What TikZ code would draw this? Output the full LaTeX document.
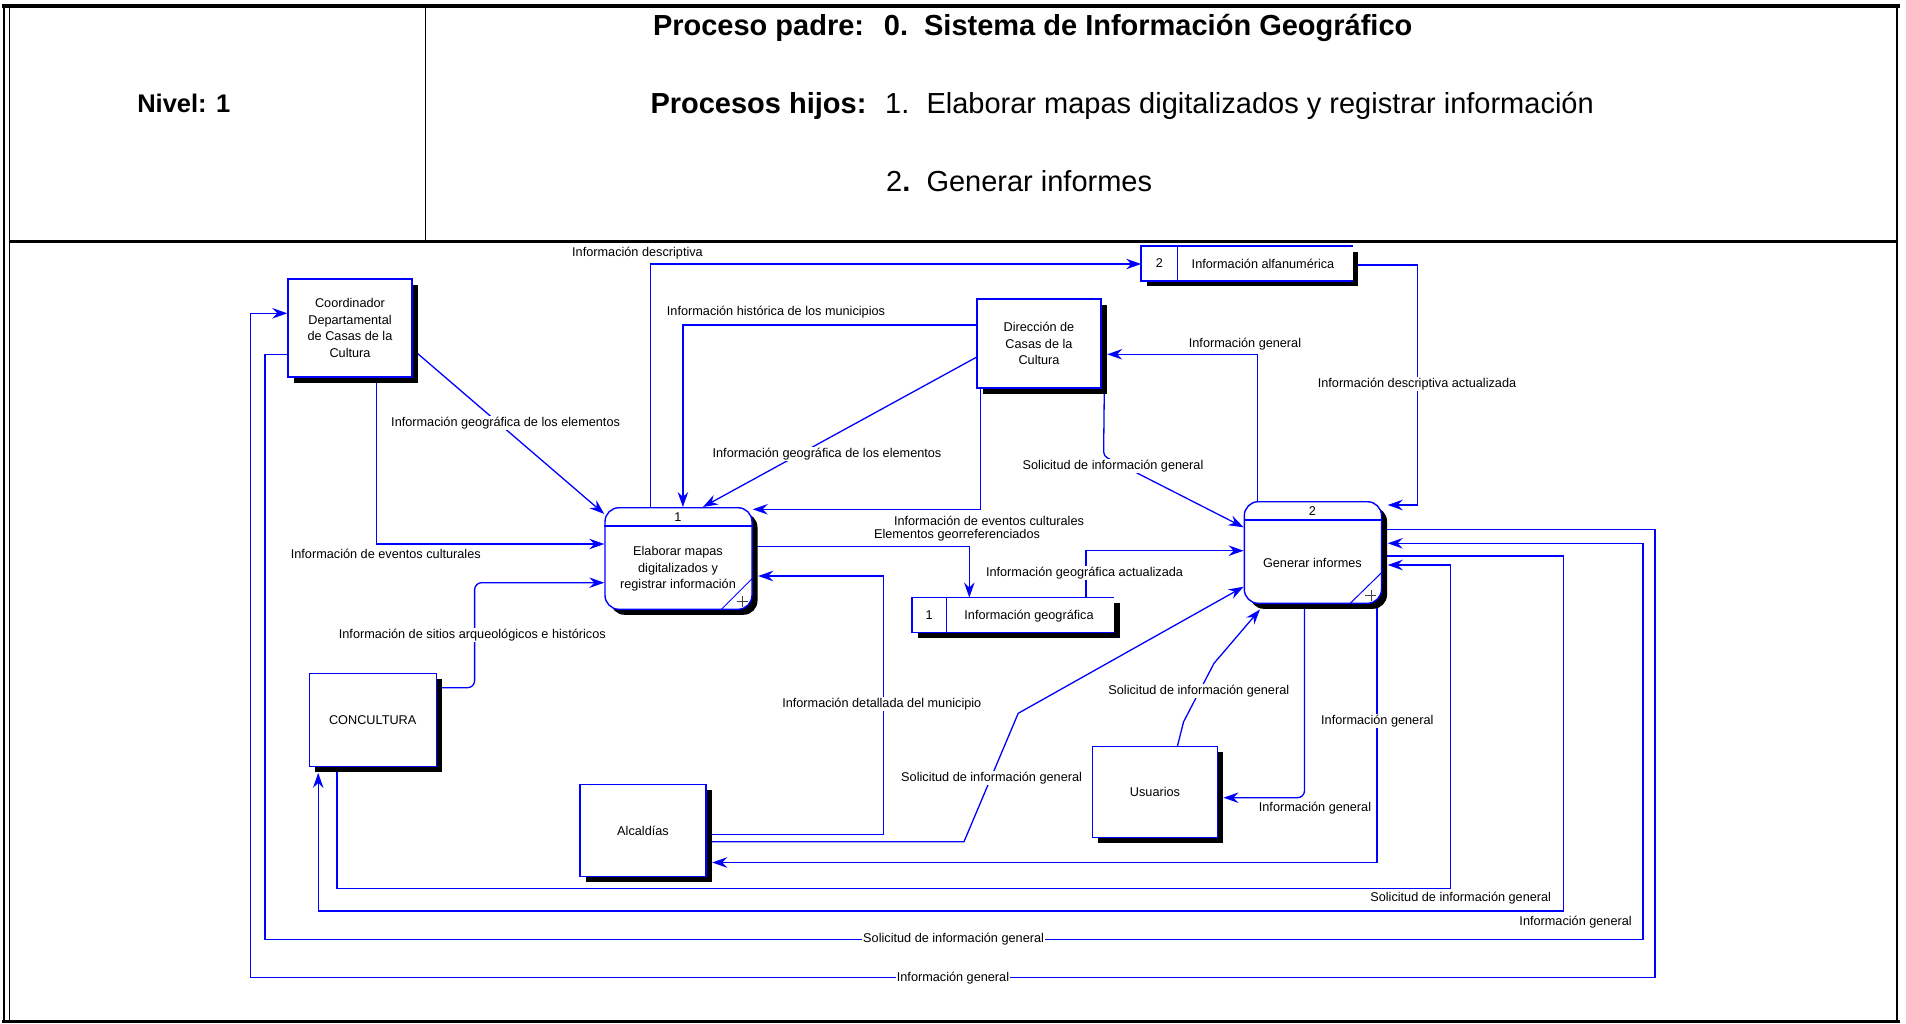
\documentclass[tikz,border=0pt]{standalone}
\usepackage{fontspec}
\setmainfont{Liberation Sans}
\usetikzlibrary{arrows.meta,shadows,backgrounds,calc}

\newcommand\dfdfont{\fontsize{12.7}{16.7}\selectfont}
\newcommand\hdbf{\fontsize{29}{34}\selectfont\bfseries}
\newcommand\hdrm{\fontsize{29}{34}\selectfont}
\newcommand\nivfont{\fontsize{25.5}{30}\selectfont\bfseries}

\tikzset{
  flow/.style={draw=blue, line width=1.3pt, -{Stealth[length=15pt,width=10.5pt,inset=5pt]}},
  lab/.style={font=\dfdfont, inner sep=1pt, fill=white},
  boxline/.style={draw=blue, line width=1.4pt},
  blackshadow/.style={general shadow={fill=black, shadow xshift=5.5pt, shadow yshift=-5.5pt}},
  ext/.style={draw=blue, line width=1.4pt, fill=white, inner sep=0pt, align=center,
              font=\dfdfont, blackshadow},
  proc/.style={ext, rounded corners=14pt},
  store/.style={fill=white, inner sep=0pt, blackshadow},
  hdr/.style={inner sep=0pt, anchor=base west},
  plus/.style={draw=black!75, line width=0.7pt}
}

\begin{document}
\begin{tikzpicture}[x=1pt, y=-1pt]
\useasboundingbox (0,0) rectangle (1906,1023);

% table frame
\draw[line width=4.5pt] (2,6) -- (1900,6);
\draw[line width=1.2pt] (4,6) -- (4,1022);
\draw[line width=1.5pt] (9.5,6) -- (9.5,1022);
\draw[line width=2pt] (1897,6) -- (1897,1022);
\draw[line width=3pt] (2,1021.5) -- (1900,1021.5);
\draw[line width=3pt] (9.5,241) -- (1897,241);
\draw[line width=1.2pt] (425.5,6) -- (425.5,241);

% header
\node[inner sep=0pt, anchor=base, font=\nivfont] (niv) at (183.8,112.7) {Nivel: 1};
\node[hdr, font=\hdbf] (pp) at (652.8,35.5) {Proceso padre:};
\node[hdr, font=\hdbf] (ppn) at (883.7,35.5) {0.};
\node[hdr, font=\hdbf] (ppt) at (923.9,35.5) {Sistema de Información Geográfico};
\node[hdr, font=\hdbf] (ph) at (650.3,113.7) {Procesos hijos:};
\node[hdr, font=\hdrm] (h1n) at (885,113.7) {1.};
\node[hdr, font=\hdrm] (h1) at (926.3,113.7) {Elaborar mapas digitalizados y registrar información};
\node[hdr, font=\hdrm] (h2n) at (886,191.5) {2\textbf{.}};
\node[hdr, font=\hdrm] (h2) at (926.3,191.5) {Generar informes};

% external entities
\node[ext, minimum width=124pt, minimum height=98pt] (coor) at (350,328)
  {Coordinador\\Departamental\\de Casas de la\\Cultura};
\node[ext, minimum width=124pt, minimum height=89pt] (dir) at (1039,343.5)
  {Dirección de\\Casas de la\\Cultura};
\node[ext, minimum width=127pt, minimum height=93pt] (conc) at (372.7,720.2) {CONCULTURA};
\node[ext, minimum width=126pt, minimum height=92pt] (alc) at (643,830.5) {Alcaldías};
\node[ext, minimum width=124.5pt, minimum height=91pt] (usu) at (1155,792) {Usuarios};

% processes
\node[proc, minimum width=147pt, minimum height=101.6pt] (p1) at (678.5,558.5) {};
\node[proc, minimum width=137.2pt, minimum height=101.6pt] (p2) at (1312.9,552.5) {};
\draw[boxline] (p1.west |- 0,526) -- (p1.east |- 0,526);
\draw[boxline] (p2.west |- 0,520) -- (p2.east |- 0,520);
\draw[draw=blue, line width=1pt] ($(p1.south east)+(-32,0)$) -- ($(p1.south east)+(0,-32)$);
\draw[draw=blue, line width=1pt] ($(p2.south east)+(-32.7,0)$) -- ($(p2.south east)+(0,-32)$);
\draw[plus] ($(p1.south east)+(-16,-8.5)$) -- ++(11,0) ($(p1.south east)+(-10.5,-14)$) -- ++(0,11);
\draw[plus] ($(p2.south east)+(-16.8,-8.5)$) -- ++(11,0) ($(p2.south east)+(-11.3,-14)$) -- ++(0,11);
\node[font=\dfdfont] (p1n) at (678,516.7) {1};
\node[font=\dfdfont, align=center] (p1t) at (678,569) {Elaborar mapas\\digitalizados y\\registrar información};
\node[font=\dfdfont] (p2n) at (1312.4,510.7) {2};
\node[font=\dfdfont] (p2t) at (1312.4,562.7) {Generar informes};

% data stores
\node[store, minimum width=211.3pt, minimum height=34.7pt] (s2) at (1247,263.4) {};
\draw[boxline] (s2.north east) -- (s2.north west) -- (s2.south west) -- (s2.south east);
\draw[boxline] (s2.north -| 1177.7,0) -- (s2.south -| 1177.7,0);
\node[font=\dfdfont] (s2n) at (1159.5,263.4) {2};
\node[font=\dfdfont] (s2t) at (1263,263.4) {Información alfanumérica};

\node[store, minimum width=202pt, minimum height=34.6pt] (s1) at (1013,615) {};
\draw[boxline] (s1.north east) -- (s1.north west) -- (s1.south west) -- (s1.south east);
\draw[boxline] (s1.north -| 946.4,0) -- (s1.south -| 946.4,0);
\node[font=\dfdfont] (s1n) at (929.2,615) {1};
\node[font=\dfdfont] (s1t) at (1029,615.7) {Información geográfica};

% data flows, kept behind the boxes and their shadows
\begin{scope}[on background layer]
\fill[white] (0,0) rectangle (1906,1023);
\draw[flow] (coor.east |- 0,349.3) -- (p1.west |- 0,514);
\draw[flow] (coor.south -| 376.4,0) -- (376.4,544) -- (p1.west |- 0,544);
\draw[flow] (p1.north -| 650.4,0) -- (650.4,264) -- (s2.west |- 0,264);
\draw[flow] (dir.west |- 0,325) -- (682.9,325) -- (p1.north -| 682.9,0);
\draw[flow] (dir.west |- 0,357.3) -- (p1.north -| 702.9,0);
\draw[flow] (dir.south -| 980.7,0) -- (980.7,509.3) -- (p1.east |- 0,509.3);
\draw[flow] (p1.east |- 0,546.7) -- (969.3,546.7) -- (s1.north -| 969.3,0);
\draw[flow] (s1.north -| 1086,0) -- (1086,550.7) -- (p2.west |- 0,550.7);
\draw[flow] (alc.east |- 0,834.3) -- (883.6,834.3) -- (883.6,576) -- ($(p1.east |- 0,576)+(5.5,0)$);
\draw[flow] (alc.east |- 0,841.7) -- (964,841.7) -- (1018.2,713.3) -- (p2.west |- 0,586.7);
\draw[flow] (p2.south -| 1377,0) -- (1377,862.5) -- ($(alc.east |- 0,862.5)+(5.5,0)$);
\draw[flow] (usu.north -| 1177.5,0) -- (1183.6,721.7) -- (1214,663.3) -- ($(p2.south west)+(16.4,5.5)$);
\draw[flow, rounded corners=7pt] (p2.south -| 1304.5,0) -- (1304.5,797.7) -- ($(usu.east |- 0,797.7)+(5.5,0)$);
\draw[flow, rounded corners=4pt] ($(dir.south east)+(2.6,0)$) -- (1103.6,456) -- (p2.west |- 0,527.3);
\draw[flow] (p2.north -| 1257.7,0) -- (1257.7,354.3) -- ($(dir.east |- 0,354.3)+(5.5,0)$);
\draw[flow] (s2.east |- 0,265) -- (1417.6,265) -- (1417.6,505) -- ($(p2.east |- 0,505)+(5.5,0)$);
\draw[flow] (p2.east |- 0,529.3) -- (1655,529.3) -- (1655,977.7) -- (250.7,977.7) -- (250.7,313.3) -- (coor.west |- 0,313.3);
\draw[flow] (coor.west |- 0,354.3) -- (265,354.3) -- (265,939.3) -- (1643,939.3) -- (1643,543.3) -- ($(p2.east |- 0,543.3)+(5.5,0)$);
\draw[flow] (p2.east |- 0,556) -- (1563.6,556) -- (1563.6,911) -- (318.2,911) -- ($(conc.south -| 318.2,0)+(0,5.5)$);
\draw[flow] (conc.south -| 337,0) -- (337,888.3) -- (1450.7,888.3) -- (1450.7,565) -- ($(p2.east |- 0,565)+(5.5,0)$);
\draw[flow, rounded corners=7pt] (conc.east |- 0,687.7) -- (474.6,687.7) -- (474.6,582.7) -- (p1.west |- 0,582.7);
\end{scope}

% flow labels
\node[lab] (l1) at (505.6,422.7) {Información geográfica de los elementos};
\node[lab] (l2) at (385.8,554.3) {Información de eventos culturales};
\node[lab] (l3) at (637.5,252.7) {Información descriptiva};
\node[lab] (l4) at (776,311.7) {Información histórica de los municipios};
\node[lab] (l5) at (827,453.7) {Información geográfica de los elementos};
\node[lab] (l6) at (989,520.7) {Información de eventos culturales};
\node[lab] (l7) at (957,535.7) {Elementos georreferenciados};
\node[lab] (l8) at (1084.5,572.7) {Información geográfica actualizada};
\node[lab] (l9) at (881.8,704.3) {Información detallada del municipio};
\node[lab] (l10) at (991.6,777.7) {Solicitud de información general};
\node[lab] (l11) at (1377.3,720.7) {Información general};
\node[lab] (l12) at (1198.8,690.7) {Solicitud de información general};
\node[lab] (l13) at (1315,808.4) {Información general};
\node[lab] (l14) at (1113,465.7) {Solicitud de información general};
\node[lab] (l15) at (1245,344) {Información general};
\node[lab] (l16) at (1417,384) {Información descriptiva actualizada};
\node[lab] (l17) at (953,977.7) {Información general};
\node[lab] (l18) at (953.6,939.3) {Solicitud de información general};
\node[lab] (l19) at (1575.6,921.7) {Información general};
\node[lab] (l20) at (1460.7,898.3) {Solicitud de información general};
\node[lab] (l21) at (472.3,635) {Información de sitios arqueológicos e históricos};
\end{tikzpicture}
\end{document}
